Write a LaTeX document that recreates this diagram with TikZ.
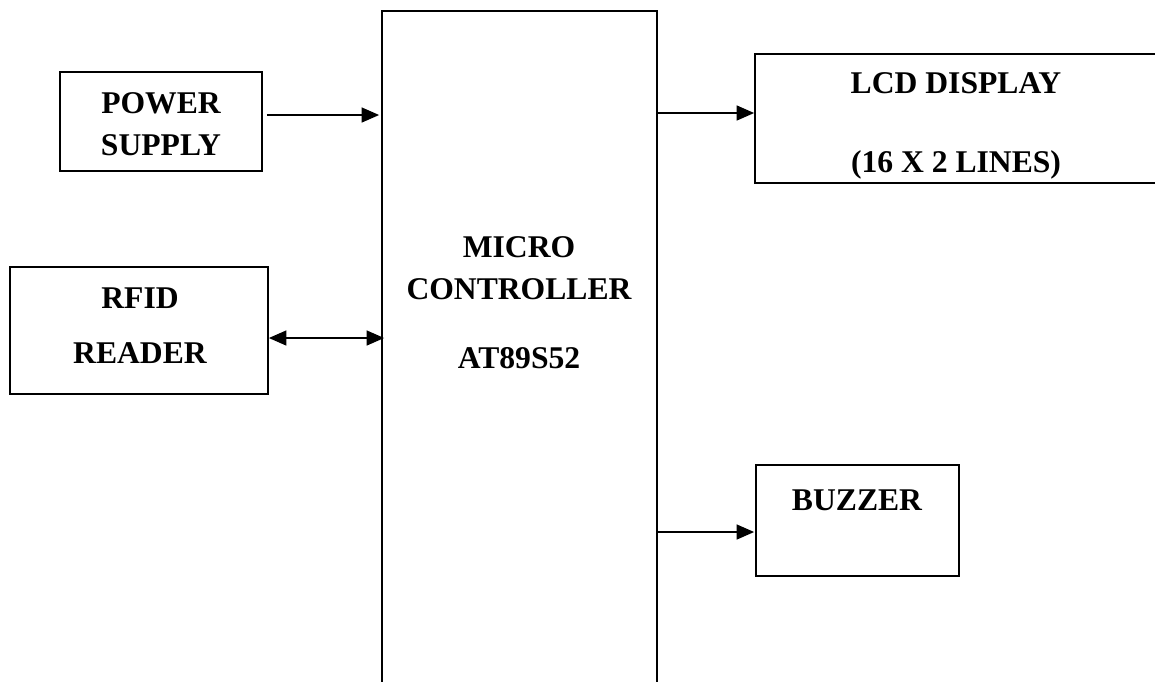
\documentclass[tikz,border=0pt]{standalone}
\usepackage{fontspec}
\setmainfont{Liberation Serif}
\usetikzlibrary{arrows.meta}

\begin{document}
\begin{tikzpicture}[x=0.02cm,y=-0.02cm,line width=1pt,
    >={Triangle[length=10pt,width=8.5pt]},
    blk/.style={draw,rectangle,inner sep=0pt},
    txt/.style={font=\fontsize{18}{24}\selectfont\bfseries,align=center,inner sep=0pt}
                   ]

    \clip (0,0) rectangle (1155,681);

    \node[blk,minimum width=4.04cm,minimum height=1.98cm](w0) at (161,121.5) {};
    \node[blk,minimum width=5.16cm,minimum height=2.54cm](w1) at (139,330.5) {};
    \node[blk,minimum width=5.5cm,minimum height=14.18cm](w2) at (519.5,365.5) {};
    \node[blk,minimum width=8.3cm,minimum height=2.58cm](w3) at (962.5,118.4) {};
    \node[blk,minimum width=4.06cm,minimum height=2.22cm](w4) at (857.5,520.5) {};

    \node[txt](t0) at (161,124) {POWER\\SUPPLY};
    \node[txt](t1) at (140,325.5) {RFID\\[7pt]READER};
    \node[txt](t2) at (519,302.5) {MICRO\\CONTROLLER\\[15pt]AT89S52};
    \node[txt](t3) at (956,125.5) {LCD DISPLAY\\[21pt](16 X 2 LINES)};
    \node[txt](t4) at (857,500) {BUZZER};

    \coordinate (a0) at ([shift={(4,-6.5)}]w0.east);
    \coordinate (a1) at ([shift={(0,7.5)}]w1.east);
    \coordinate (a3) at ([shift={(0,-5.4)}]w3.west);
    \coordinate (a4) at ([shift={(-1,11.5)}]w4.west);

    \draw[->] (a0) -- ([xshift=-0.04cm]w2.west |- a0);
    \draw[<->] (a1) -- ([xshift=0.06cm]w2.west |- a1);
    \draw[->] (w2.east |- a3) -- (a3);
    \draw[->] (w2.east |- a4) -- (a4);

\end{tikzpicture}
\end{document}
